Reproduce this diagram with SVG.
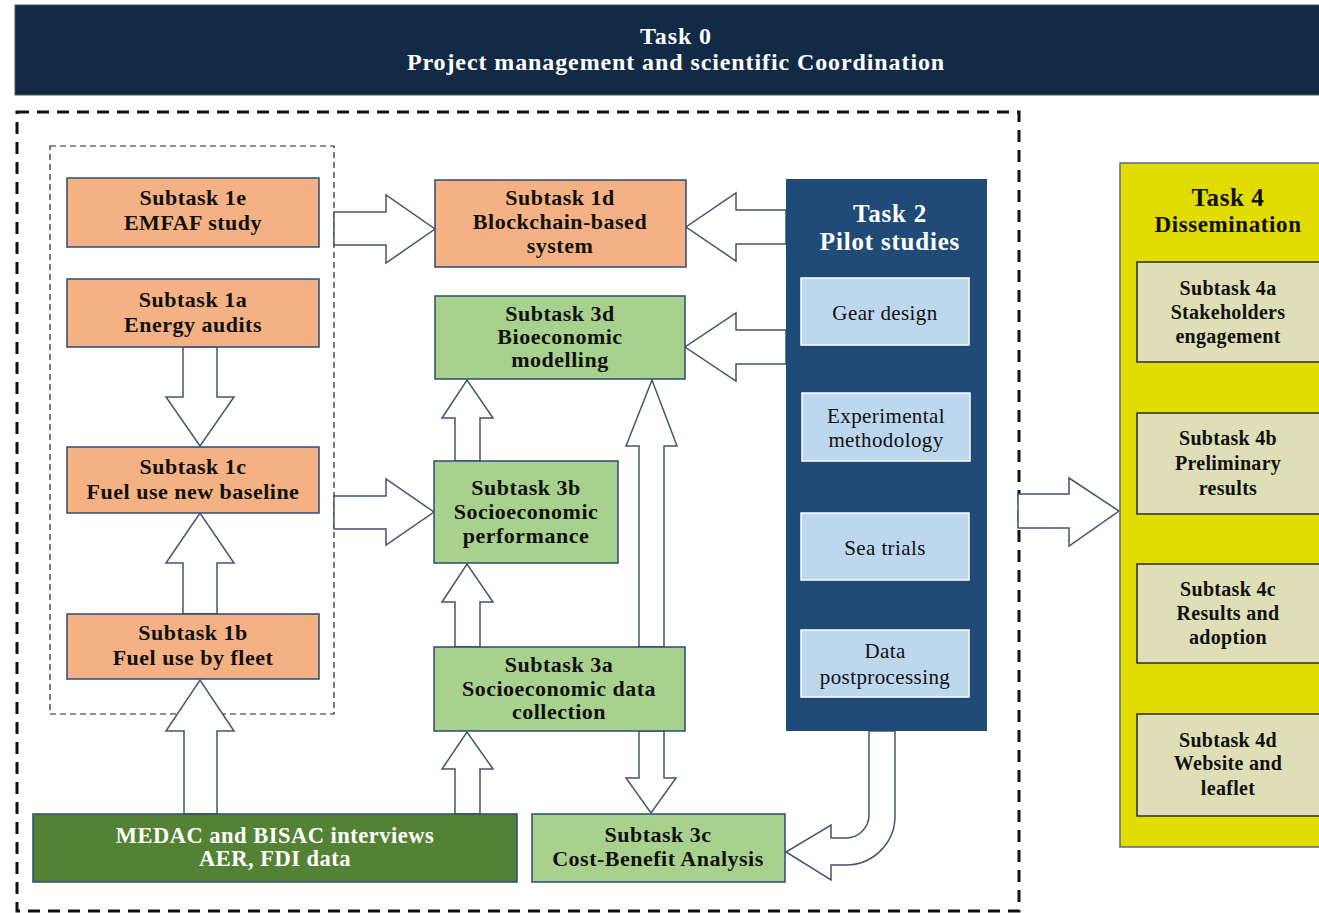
<svg xmlns="http://www.w3.org/2000/svg" width="1319" height="913" viewBox="0 0 1319 913">
<style>
text{font-family:"Liberation Serif","Times New Roman",serif;text-anchor:middle;}
.t1{font-size:22px;fill:#111;font-weight:bold;letter-spacing:0.5px;}
.t4{font-size:20px;fill:#111;font-weight:bold;letter-spacing:0.3px;}
.tw{font-size:22.5px;fill:#fff;font-weight:bold;letter-spacing:0.5px;}
.tl{font-size:21px;fill:#111;letter-spacing:0.4px;}
.hd{font-size:24px;fill:#fff;font-weight:bold;letter-spacing:0.9px;}
.org{fill:#f4b183;stroke:#2f4a73;stroke-width:1.5;}
.grn{fill:#a9d18e;stroke:#2f4a73;stroke-width:1.5;}
.dg{fill:#548235;stroke:#2f4a73;stroke-width:1.5;}
.lb{fill:#bdd7ee;stroke:#ffffff;stroke-width:1.5;}
.kh{fill:#dedfb6;stroke:#2b2b2b;stroke-width:1.5;}
.arr{fill:#ffffff;stroke:#44546a;stroke-width:1.5;stroke-linejoin:miter;}
</style>
<rect x="0" y="0" width="1319" height="913" fill="#ffffff"/>
<g id="task0">
<rect x="15" y="5" width="1310" height="90" fill="#132a46" stroke="#555" stroke-width="1"/>
<text class="hd" x="676" y="44">Task 0</text>
<text class="hd" x="676" y="70">Project management and scientific Coordination</text>
</g>
<g id="frames">
<rect x="17" y="112" width="1002" height="799" fill="none" stroke="#111" stroke-width="3" stroke-dasharray="12 8"/>
<rect x="50" y="146" width="284" height="568" fill="none" stroke="#222" stroke-width="1.2" stroke-dasharray="6 4"/>
</g>
<g id="connectors">
<polygon class="arr" points="183,347 183,397 166,397 200,446 234,397 217,397 217,347"/>
<polygon class="arr" points="183,614 183,563 166,563 200,513 234,563 217,563 217,614"/>
<polygon class="arr" points="184,814 184,731 166,731 200,680 234,731 217,731 217,814"/>
<polygon class="arr" points="334,212 386,212 386,195 435,229 386,263 386,245 334,245"/>
<polygon class="arr" points="334,496 386,496 386,479 434,512 386,545 386,529 334,529"/>
<polygon class="arr" points="786,210 736,210 736,193 686,227 736,261 736,244 786,244"/>
<polygon class="arr" points="786,330 736,330 736,313 685,347 736,381 736,364 786,364"/>
<polygon class="arr" points="455,461 455,418 442,418 467,380 493,418 480,418 480,461"/>
<polygon class="arr" points="455,647 455,602 442,602 467,564 493,602 480,602 480,647"/>
<polygon class="arr" points="455,814 455,769 442,769 467,732 493,769 480,769 480,814"/>
<polygon class="arr" points="639,647 639,446 626,446 652,380 677,446 664,446 664,647"/>
<polygon class="arr" points="639,731 639,778 626,778 651,813 676,778 664,778 664,731"/>
<polygon class="arr" points="1018,494 1069,494 1069,478 1119,511 1069,546 1069,528 1018,528"/>
<path class="arr" d="M869,731 L869,815 A23,23 0 0 1 846,838 L831,838 L831,825 L786,852 L831,880 L831,865 L846,865 A49,49 0 0 0 895,816 L895,731 Z"/>
</g>
<g id="subtask1e">
<rect class="org" x="67" y="178" width="252" height="69"/>
<text class="t1" x="193" y="205">Subtask 1e</text>
<text class="t1" x="193" y="230">EMFAF study</text>
</g>
<g id="subtask1a">
<rect class="org" x="67" y="279" width="252" height="68"/>
<text class="t1" x="193" y="307">Subtask 1a</text>
<text class="t1" x="193" y="332">Energy audits</text>
</g>
<g id="subtask1c">
<rect class="org" x="67" y="447" width="252" height="66"/>
<text class="t1" x="193" y="474">Subtask 1c</text>
<text class="t1" x="193" y="499">Fuel use new baseline</text>
</g>
<g id="subtask1b">
<rect class="org" x="67" y="614" width="252" height="65"/>
<text class="t1" x="193" y="640">Subtask 1b</text>
<text class="t1" x="193" y="665">Fuel use by fleet</text>
</g>
<g id="subtask1d">
<rect class="org" x="435" y="180" width="251" height="87"/>
<text class="t1" x="560" y="205">Subtask 1d</text>
<text class="t1" x="560" y="229">Blockchain-based</text>
<text class="t1" x="560" y="253">system</text>
</g>
<g id="subtask3d">
<rect class="grn" x="435" y="296" width="250" height="83"/>
<text class="t1" x="560" y="321">Subtask 3d</text>
<text class="t1" x="560" y="344">Bioeconomic</text>
<text class="t1" x="560" y="367">modelling</text>
</g>
<g id="subtask3b">
<rect class="grn" x="434" y="461" width="184" height="102"/>
<text class="t1" x="526" y="495">Subtask 3b</text>
<text class="t1" x="526" y="519">Socioeconomic</text>
<text class="t1" x="526" y="543">performance</text>
</g>
<g id="subtask3a">
<rect class="grn" x="434" y="647" width="251" height="84"/>
<text class="t1" x="559" y="672">Subtask 3a</text>
<text class="t1" x="559" y="696">Socioeconomic data</text>
<text class="t1" x="559" y="719">collection</text>
</g>
<g id="medac">
<rect class="dg" x="33" y="814" width="484" height="68"/>
<text class="tw" x="275" y="843">MEDAC and BISAC interviews</text>
<text class="tw" x="275" y="866">AER, FDI data</text>
</g>
<g id="subtask3c">
<rect class="grn" x="532" y="814" width="253" height="68"/>
<text class="t1" x="658" y="842">Subtask 3c</text>
<text class="t1" x="658" y="866">Cost-Benefit Analysis</text>
</g>
<g id="task2">
<rect x="786" y="179" width="201" height="552" fill="#1f4b76"/>
<text x="890" y="222" style="font-size:25px;fill:#fff;font-weight:bold;letter-spacing:0.8px;">Task 2</text>
<text x="890" y="250" style="font-size:25px;fill:#fff;font-weight:bold;letter-spacing:0.8px;">Pilot studies</text>
<rect class="lb" x="801" y="278" width="168" height="67"/>
<text class="tl" x="885" y="320">Gear design</text>
<rect class="lb" x="802" y="393" width="168" height="68"/>
<text class="tl" x="886" y="423">Experimental</text>
<text class="tl" x="886" y="447">methodology</text>
<rect class="lb" x="801" y="513" width="168" height="67"/>
<text class="tl" x="885" y="555">Sea trials</text>
<rect class="lb" x="801" y="630" width="168" height="67"/>
<text class="tl" x="885" y="658">Data</text>
<text class="tl" x="885" y="684">postprocessing</text>
</g>
<g id="task4">
<rect x="1120" y="163" width="215" height="684" fill="#e2dc00" stroke="#5b6b82" stroke-width="1.5"/>
<text x="1228" y="206" style="font-size:25px;fill:#111;font-weight:bold;letter-spacing:0.6px;">Task 4</text>
<text x="1228" y="232" style="font-size:23px;fill:#111;font-weight:bold;letter-spacing:0.6px;">Dissemination</text>
<rect class="kh" x="1137" y="262" width="195" height="100"/>
<text class="t4" x="1228" y="295">Subtask 4a</text>
<text class="t4" x="1228" y="319">Stakeholders</text>
<text class="t4" x="1228" y="343">engagement</text>
<rect class="kh" x="1137" y="413" width="195" height="101"/>
<text class="t4" x="1228" y="445">Subtask 4b</text>
<text class="t4" x="1228" y="470">Preliminary</text>
<text class="t4" x="1228" y="495">results</text>
<rect class="kh" x="1137" y="564" width="195" height="99"/>
<text class="t4" x="1228" y="596">Subtask 4c</text>
<text class="t4" x="1228" y="620">Results and</text>
<text class="t4" x="1228" y="644">adoption</text>
<rect class="kh" x="1137" y="714" width="195" height="102"/>
<text class="t4" x="1228" y="747">Subtask 4d</text>
<text class="t4" x="1228" y="770">Website and</text>
<text class="t4" x="1228" y="795">leaflet</text>
</g>
</svg>
